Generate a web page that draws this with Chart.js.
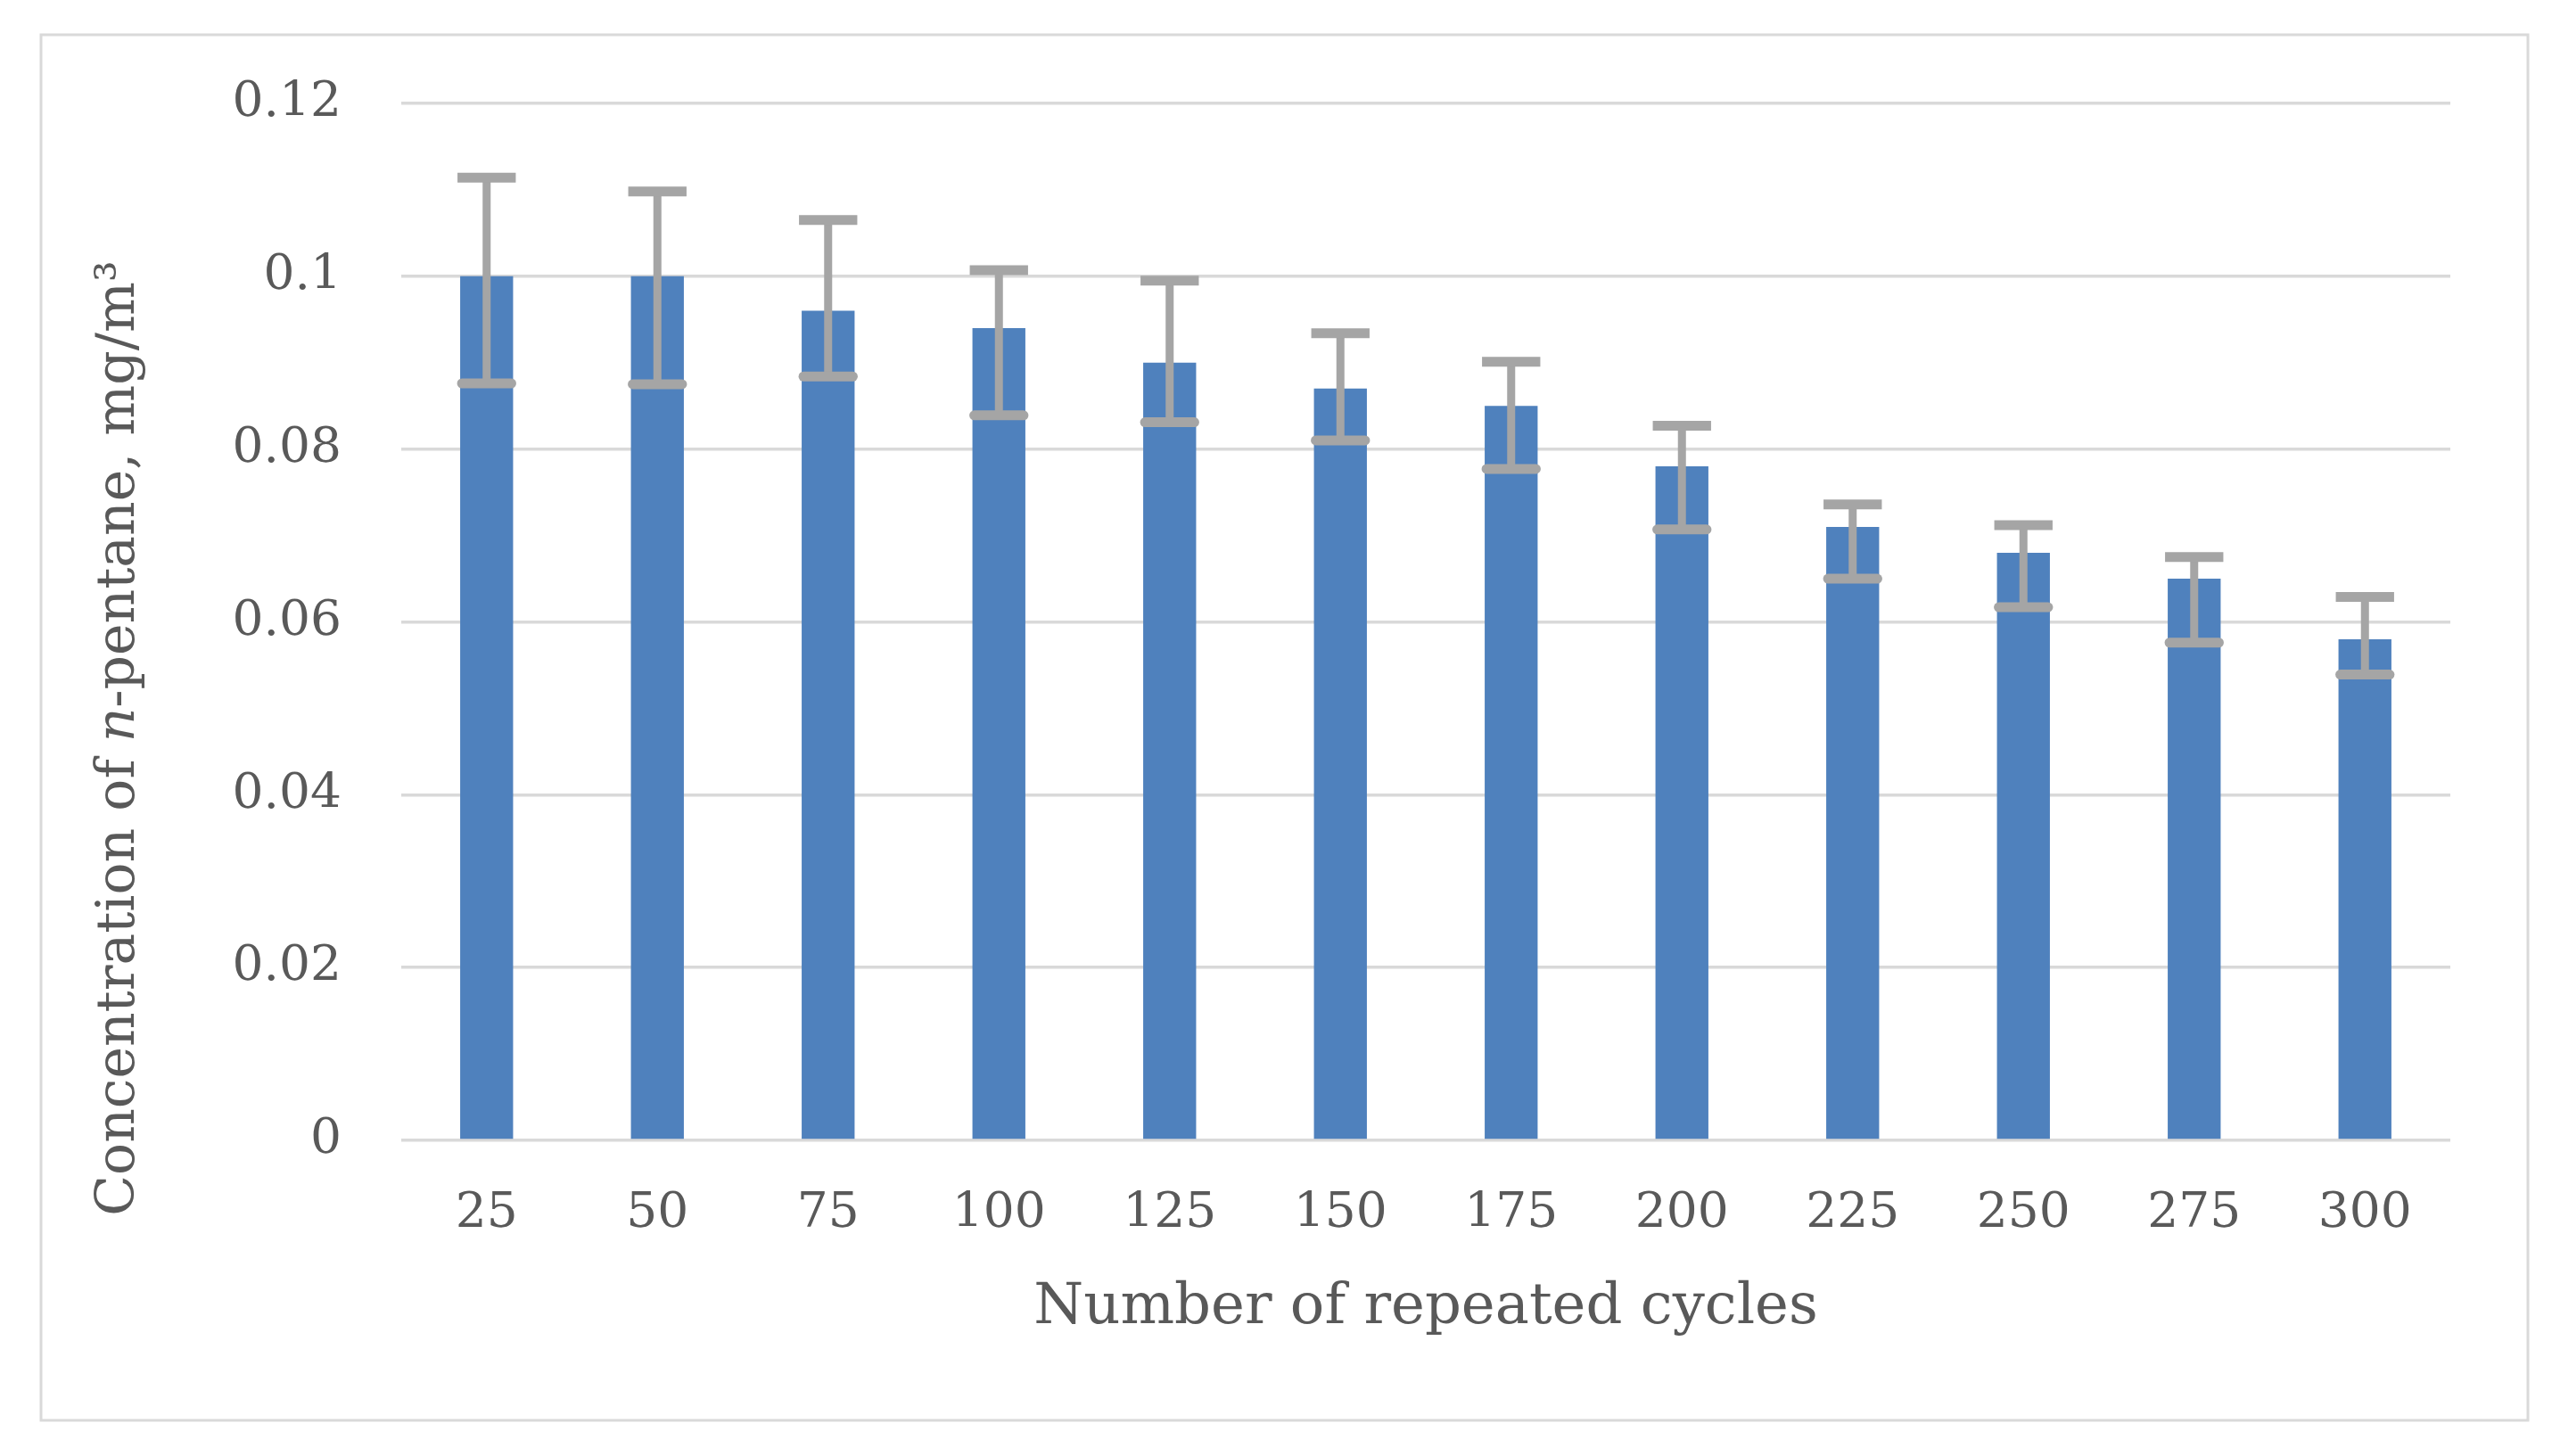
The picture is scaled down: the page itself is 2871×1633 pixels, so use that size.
<!DOCTYPE html>
<html>
<head>
<meta charset="utf-8">
<script src="https://cdn.jsdelivr.net/npm/chart.js@4"></script>
<style>
  html, body { margin: 0; padding: 0; background: #ffffff; }
  #wrap { width: 2871px; height: 1633px; position: relative; }
</style>
</head>
<body>
<div id="wrap"><canvas id="c"></canvas></div>
<script>
// ---- data ----
const categories = ['25','50','75','100','125','150','175','200','225','250','275','300'];
const concentration = [0.100, 0.100, 0.096, 0.094, 0.090, 0.087, 0.085, 0.078, 0.071, 0.068, 0.065, 0.058];
const errorUpper = [0.1114, 0.1098, 0.1065, 0.1007, 0.0995, 0.0934, 0.0901, 0.0827, 0.0736, 0.0712, 0.0675, 0.0629];
const errorLower = [0.0876, 0.0875, 0.0884, 0.0839, 0.0831, 0.0810, 0.0777, 0.0707, 0.0650, 0.0617, 0.0576, 0.0539];
const yTickLabels = ['0', '0.02', '0.04', '0.06', '0.08', '0.1', '0.12'];
const xTitle = 'Number of repeated cycles';
const yTitleParts = [['Concentration of ', 'normal'], ['n', 'italic'], ['-pentane, mg/m\u00B3', 'normal']];

const FONT = "'DejaVu Serif', 'Liberation Serif', serif";
const TEXT = '#595959';
const GRID = '#d9d9d9';

Chart.defaults.font.family = FONT;
Chart.defaults.color = TEXT;

const frame = {
  id: 'frame',
  beforeDraw(chart) {
    const ctx = chart.ctx;
    ctx.save();
    ctx.fillStyle = '#ffffff';
    ctx.fillRect(0, 0, chart.width, chart.height);
    ctx.strokeStyle = GRID;
    ctx.lineWidth = 3;
    ctx.strokeRect(46, 39, 2789, 1554);
    ctx.restore();
  }
};

const errorBars = {
  id: 'errorBars',
  afterDatasetsDraw(chart) {
    const ctx = chart.ctx;
    const meta = chart.getDatasetMeta(0);
    const ys = chart.scales.y;
    ctx.save();
    ctx.strokeStyle = '#a5a5a5';
    meta.data.forEach((bar, i) => {
      const x = bar.x;
      const half = bar.width / 2 + 3;
      const yHi = ys.getPixelForValue(errorUpper[i]);
      const yLo = ys.getPixelForValue(errorLower[i]);
      ctx.lineWidth = 9;
      ctx.lineCap = 'butt';
      ctx.beginPath();
      ctx.moveTo(x, yHi);
      ctx.lineTo(x, yLo);
      ctx.stroke();
      ctx.lineWidth = 11;
      ctx.beginPath();
      ctx.moveTo(x - half, yHi);
      ctx.lineTo(x + half, yHi);
      ctx.stroke();
      ctx.lineCap = 'round';
      ctx.beginPath();
      ctx.moveTo(x - half + 5, yLo);
      ctx.lineTo(x + half - 5, yLo);
      ctx.stroke();
    });
    ctx.restore();
  }
};

const yTitle = {
  id: 'yTitle',
  afterDraw(chart) {
    const ctx = chart.ctx;
    ctx.save();
    const size = 60;
    let total = 0;
    const widths = yTitleParts.map(([t, st]) => {
      ctx.font = (st === 'italic' ? 'italic ' : '') + size + 'px ' + FONT;
      const w = ctx.measureText(t).width;
      total += w;
      return w;
    });
    ctx.translate(134, 828);
    ctx.rotate(-Math.PI / 2);
    ctx.fillStyle = TEXT;
    ctx.textBaseline = 'middle';
    ctx.textAlign = 'left';
    let x = -total / 2;
    yTitleParts.forEach(([t, st], i) => {
      ctx.font = (st === 'italic' ? 'italic ' : '') + size + 'px ' + FONT;
      ctx.fillText(t, x, 0);
      x += widths[i];
    });
    ctx.restore();
  }
};

new Chart(document.getElementById('c'), {
  type: 'bar',
  data: {
    labels: categories,
    datasets: [{
      data: concentration,
      backgroundColor: '#4F81BD',
      borderWidth: 0,
      barPercentage: 0.31,
      categoryPercentage: 1.0
    }]
  },
  options: {
    responsive: true,
    maintainAspectRatio: false,
    devicePixelRatio: 1,
    animation: false,
    layout: { padding: { left: 0, right: 123, top: 116, bottom: 127 } },
    plugins: { legend: { display: false }, tooltip: { enabled: false } },
    scales: {
      x: {
        grid: { display: false, drawTicks: false },
        border: { display: false },
        ticks: { font: { size: 55 }, color: TEXT, padding: 50, maxRotation: 0 },
        title: { display: true, text: xTitle, font: { size: 64 }, color: TEXT, padding: 0 },
        afterFit(scale) { scale.height = 1506 - 1279; }
      },
      y: {
        min: 0, max: 0.12,
        grid: { color: GRID, lineWidth: 3.5, drawTicks: false },
        border: { display: false },
        ticks: {
          stepSize: 0.02,
          font: { size: 55 }, color: TEXT, padding: 67,
          callback: (v, i) => yTickLabels[i]
        },
        afterFit(scale) { scale.width = 450; }
      }
    }
  },
  plugins: [frame, errorBars, yTitle]
});
</script>
</body>
</html>
